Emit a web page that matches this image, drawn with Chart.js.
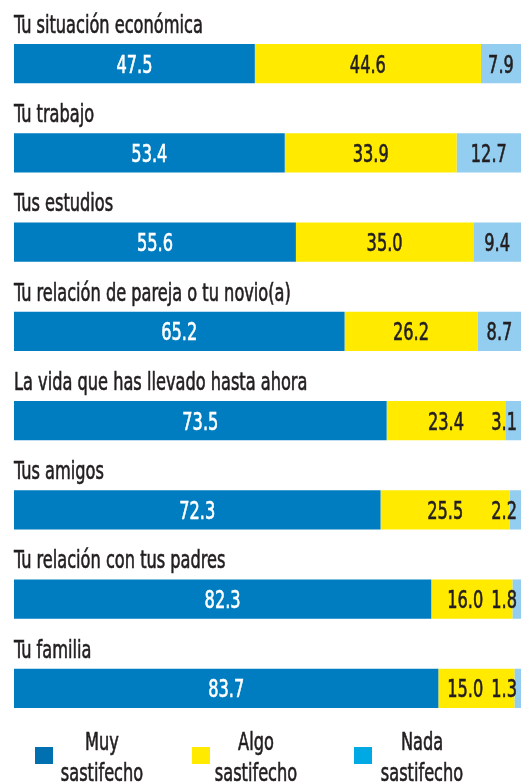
<!DOCTYPE html>
<html>
<head>
<meta charset="utf-8">
<script src="https://cdn.jsdelivr.net/npm/chart.js@4/dist/chart.umd.min.js"></script>
<style>
  html, body { margin: 0; padding: 0; background: #fff; }
  canvas { display: block; }
</style>
</head>
<body>
<canvas id="chart" width="521" height="784"></canvas>
<script>
const categories = [
    'Tu situación económica',
    'Tu trabajo',
    'Tus estudios',
    'Tu relación de pareja o tu novio(a)',
    'La vida que has llevado hasta ahora',
    'Tus amigos',
    'Tu relación con tus padres',
    'Tu familia'
];
const muy = [47.5, 53.4, 55.6, 65.2, 73.5, 72.3, 82.3, 83.7];
const algo = [44.6, 33.9, 35.0, 26.2, 23.4, 25.5, 16.0, 15.0];
const nada = [7.9, 12.7, 9.4, 8.7, 3.1, 2.2, 1.8, 1.3];
const legendLabels = [['Muy', 'sastifecho'], ['Algo', 'sastifecho'], ['Nada', 'sastifecho']];

const FONT = '"DejaVu Sans Condensed", "DejaVu Sans", sans-serif';
const SX = 0.75;
const barColors = ['#007dc0', '#ffea00', '#93cdf0'];
const legendColors = ['#0070b0', '#ffea00', '#00a8e4'];
const labelColors = ['#ffffff', '#231f20', '#231f20'];

function textWidth(ctx, text, size) {
    ctx.save();
    ctx.font = `${size}px ${FONT}`;
    const w = ctx.measureText(text).width * SX;
    ctx.restore();
    return w;
}

// condensed text: squeeze horizontally, thin stroke for a medium weight
function drawText(ctx, text, x, y, align, size, color) {
    const w = textWidth(ctx, text, size);
    ctx.save();
    ctx.font = `${size}px ${FONT}`;
    ctx.fillStyle = color;
    ctx.strokeStyle = color;
    ctx.lineWidth = 0.6;
    ctx.textBaseline = 'alphabetic';
    ctx.textAlign = 'left';
    let left = x;
    if (align === 'center') left = x - w / 2;
    ctx.translate(left, y);
    ctx.scale(SX, 1);
    ctx.fillText(text, 0, 0);
    ctx.strokeText(text, 0, 0);
    ctx.restore();
}

const textPlugin = {
    id: 'textPlugin',
    afterDatasetsDraw(chart) {
        const ctx = chart.ctx;
        const right = chart.chartArea.right;
        const n = chart.data.datasets.length;
        categories.forEach((c, i) => {
            // title above the bar
            const first = chart.getDatasetMeta(0).data[i];
            const top = first.y - first.height / 2;
            drawText(ctx, c, 14, top - 11, 'left', 24, '#231f20');

            // values inside segments, pushed left when a segment is too narrow
            const items = [];
            for (let di = 0; di < n; di++) {
                const bar = chart.getDatasetMeta(di).data[i];
                const txt = chart.data.datasets[di].data[i].toFixed(1);
                items.push({ txt, w: textWidth(ctx, txt, 24), mid: (bar.x + bar.base) / 2, y: bar.y, di });
            }
            let limit = right - 4;
            for (let k = n - 1; k >= 0; k--) {
                const it = items[k];
                if (it.mid + it.w / 2 > limit) it.mid = limit - it.w / 2;
                limit = it.mid - it.w / 2 - 8;
            }
            items.forEach(it => drawText(ctx, it.txt, it.mid, it.y + 9, 'center', 24, labelColors[it.di]));
        });
        // legend
        const boxX = [35, 192, 354];
        const textX = [102, 256, 422];
        legendLabels.forEach((l, i) => {
            ctx.fillStyle = legendColors[i];
            ctx.fillRect(boxX[i], 747, 18, 17);
            drawText(ctx, l[0], textX[i], 750, 'center', 24, '#231f20');
            drawText(ctx, l[1], textX[i], 781, 'center', 24, '#231f20');
        });
    }
};

new Chart(document.getElementById('chart').getContext('2d'), {
    type: 'bar',
    data: {
        labels: categories,
        datasets: [
            { label: 'Muy sastifecho', data: muy, backgroundColor: barColors[0] },
            { label: 'Algo sastifecho', data: algo, backgroundColor: barColors[1] },
            { label: 'Nada sastifecho', data: nada, backgroundColor: barColors[2] }
        ]
    },
    options: {
        indexAxis: 'y',
        responsive: false,
        animation: false,
        layout: { padding: { left: 14, right: 0, top: 19, bottom: 51 } },
        datasets: { bar: { barPercentage: 0.44, categoryPercentage: 1, borderWidth: 0 } },
        plugins: { legend: { display: false }, tooltip: { enabled: false } },
        scales: {
            x: { stacked: true, min: 0, max: 100, display: false },
            y: { stacked: true, display: false }
        }
    },
    plugins: [textPlugin]
});
</script>
</body>
</html>
